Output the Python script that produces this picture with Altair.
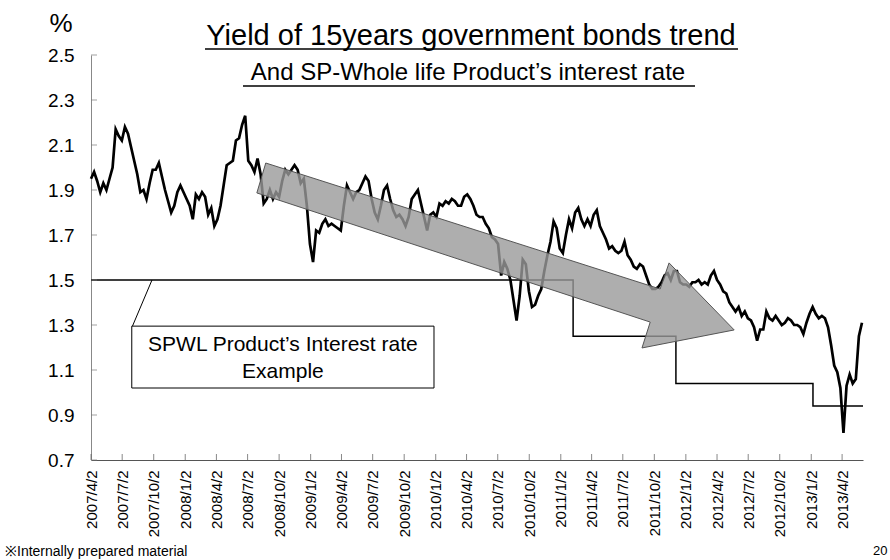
import altair as alt
import pandas as pd

FONT = "Liberation Sans"

# ---------------- data ----------------
# 15-year JGB yield (%) on a 9-day sampling grid from 2007-04-02
yield_start = "2007-04-02"
yield_step = "9D"
yield_values = [
    1.95, 1.98, 1.94, 1.89, 1.93, 1.90, 1.95, 2.00, 2.17, 2.14,
    2.12, 2.18, 2.15, 2.09, 2.03, 1.97, 1.89, 1.90, 1.86, 1.93,
    1.99, 1.99, 2.02, 1.96, 1.90, 1.85, 1.80, 1.83, 1.89, 1.92,
    1.89, 1.86, 1.83, 1.77, 1.88, 1.86, 1.89, 1.87, 1.79, 1.82,
    1.74, 1.77, 1.83, 1.92, 2.01, 2.02, 2.03, 2.12, 2.13, 2.19,
    2.23, 2.03, 2.01, 1.98, 2.04, 1.97, 1.84, 1.86, 1.90, 1.86,
    1.89, 1.87, 1.94, 1.99, 1.97, 1.99, 2.01, 1.99, 1.93, 1.95,
    1.83, 1.66, 1.58, 1.72, 1.71, 1.75, 1.77, 1.74, 1.75, 1.74,
    1.73, 1.72, 1.83, 1.92, 1.89, 1.86, 1.89, 1.90, 1.93, 1.96,
    1.94, 1.86, 1.80, 1.77, 1.83, 1.90, 1.92, 1.86, 1.81, 1.78,
    1.79, 1.77, 1.74, 1.78, 1.86, 1.88, 1.90, 1.84, 1.78, 1.72,
    1.79, 1.80, 1.78, 1.84, 1.83, 1.85, 1.84, 1.86, 1.85, 1.83,
    1.83, 1.87, 1.88, 1.86, 1.83, 1.79, 1.78, 1.78, 1.75, 1.73,
    1.69, 1.68, 1.66, 1.52, 1.58, 1.55, 1.50, 1.41, 1.32, 1.43,
    1.59, 1.57, 1.45, 1.38, 1.39, 1.43, 1.46, 1.54, 1.61, 1.67,
    1.76, 1.73, 1.64, 1.62, 1.70, 1.77, 1.73, 1.80, 1.82, 1.77,
    1.74, 1.77, 1.74, 1.79, 1.81, 1.74, 1.71, 1.68, 1.64, 1.65,
    1.63, 1.62, 1.63, 1.67, 1.61, 1.59, 1.56, 1.55, 1.57, 1.56,
    1.52, 1.48, 1.46, 1.46, 1.47, 1.49, 1.52, 1.53, 1.50, 1.54,
    1.54, 1.49, 1.48, 1.48, 1.47, 1.49, 1.49, 1.50, 1.48, 1.49,
    1.48, 1.52, 1.54, 1.50, 1.48, 1.45, 1.44, 1.40, 1.38, 1.36,
    1.38, 1.34, 1.36, 1.33, 1.32, 1.29, 1.23, 1.28, 1.28, 1.36,
    1.33, 1.32, 1.34, 1.32, 1.30, 1.31, 1.33, 1.32, 1.30, 1.30,
    1.29, 1.26, 1.31, 1.35, 1.38, 1.35, 1.33, 1.34, 1.33, 1.29,
    1.21, 1.12, 1.09, 1.02, 0.82, 1.03, 1.08, 1.04, 1.06, 1.25,
    1.31,
]

# SPWL product's interest rate (step series)
rate_dates = ["2007-04-02", "2011-02-07", "2011-12-04", "2013-01-07", "2013-06-02"]
rate_values = [1.50, 1.25, 1.04, 0.94, 0.94]

# axis ticks
x_tick_dates = [
    (2007, 4, 2), (2007, 7, 2), (2007, 10, 2), (2008, 1, 2), (2008, 4, 2),
    (2008, 7, 2), (2008, 10, 2), (2009, 1, 2), (2009, 4, 2), (2009, 7, 2),
    (2009, 10, 2), (2010, 1, 2), (2010, 4, 2), (2010, 7, 2), (2010, 10, 2),
    (2011, 1, 2), (2011, 4, 2), (2011, 7, 2), (2011, 10, 2), (2012, 1, 2),
    (2012, 4, 2), (2012, 7, 2), (2012, 10, 2), (2013, 1, 2), (2013, 4, 2),
]
y_ticks = [0.7, 0.9, 1.1, 1.3, 1.5, 1.7, 1.9, 2.1, 2.3, 2.5]
x_domain = [(2007, 4, 2), (2013, 6, 2)]
y_domain = [0.7, 2.5]

# big trend arrow (polygon, data coordinates)
arrow_dates = ["2008-07-29", "2008-08-24", "2011-10-19", "2011-11-14",
               "2012-05-22", "2011-08-27", "2011-09-20", "2008-07-29"]
arrow_values = [1.887, 2.02, 1.46, 1.576, 1.278, 1.198, 1.313, 1.887]

# callout box, leader and its text
box_dates = ["2007-07-30", "2009-12-28"]
box_values = [1.295, 1.02]
leader_dates = ["2007-08-01", "2007-09-27"]
leader_values = [1.295, 1.50]
callout_lines = ["SPWL Product\u2019s Interest rate", "Example"]
callout_date = "2008-10-13"
callout_values = [1.211, 1.091]

title_text = "Yield of 15years government bonds trend"
subtitle_text = "And SP-Whole life Product\u2019s interest rate"
unit_text = "%"
footnote_text = "\u203bInternally prepared material"
page_text = "20"

# ---------------- frames ----------------
yield_df = pd.DataFrame({
    "date": pd.date_range(yield_start, periods=len(yield_values), freq=yield_step),
    "v": yield_values,
})
rate_df = pd.DataFrame({"date": pd.to_datetime(rate_dates), "v": rate_values})
arrow_df = pd.DataFrame({"date": pd.to_datetime(arrow_dates), "v": arrow_values,
                         "k": list(range(len(arrow_dates)))})
box_df = pd.DataFrame({"d1": [pd.Timestamp(box_dates[0])], "d2": [pd.Timestamp(box_dates[1])],
                       "v1": [box_values[0]], "v2": [box_values[1]]})
leader_df = pd.DataFrame({"date": pd.to_datetime(leader_dates), "v": leader_values})
callout_df = pd.DataFrame({"date": [pd.Timestamp(callout_date)] * 2, "v": callout_values,
                           "t": callout_lines})
xt_df = pd.DataFrame({"date": [pd.Timestamp(year=y, month=m, day=d) for y, m, d in x_tick_dates]})
yt_df = pd.DataFrame({"v": y_ticks})

# ---------------- scales / encodings ----------------
x_scale = alt.Scale(domain=[alt.DateTime(year=y, month=m, date=d) for y, m, d in x_domain])
y_scale = alt.Scale(domain=y_domain, nice=False, zero=False)

x_axis = alt.Axis(
    values=[alt.DateTime(year=y, month=m, date=d) for y, m, d in x_tick_dates],
    format="%Y/%-m/%-d", labelAngle=-90, labelFontSize=15, labelPadding=10,
    labelFont=FONT, labelColor="black", ticks=False, grid=False,
    domainColor="#555555", title=None, labelOverlap=False, labelFlush=False,
)
y_axis = alt.Axis(
    values=y_ticks, format=".1f", labelFontSize=19, labelPadding=17,
    labelFont=FONT, labelColor="black", ticks=False, grid=False,
    domainColor="#888888", title=None,
)

X = alt.X("date:T", scale=x_scale, axis=x_axis)
Y = alt.Y("v:Q", scale=y_scale, axis=y_axis)

yield_line = alt.Chart(yield_df).mark_line(color="black", strokeWidth=2.7).encode(x=X, y=Y)
rate_line = alt.Chart(rate_df).mark_line(color="black", strokeWidth=1.5,
                                          interpolate="step-after").encode(x=X, y=Y)
arrow = alt.Chart(arrow_df).mark_line(
    fill="#9a9a9a", fillOpacity=0.8, stroke="#555555", strokeWidth=1
).encode(x=X, y=Y, order="k:Q")
box = alt.Chart(box_df).mark_rect(fill="white", stroke="black", strokeWidth=1).encode(
    x=alt.X("d1:T", scale=x_scale, axis=x_axis), x2="d2:T",
    y=alt.Y("v1:Q", scale=y_scale, axis=y_axis), y2="v2:Q")
leader = alt.Chart(leader_df).mark_line(color="black", strokeWidth=1).encode(x=X, y=Y)
callout = alt.Chart(callout_df).mark_text(
    font=FONT, fontSize=21, color="black", align="center", baseline="middle"
).encode(x=X, y=Y, text="t:N")

xticks = alt.Chart(xt_df).mark_tick(
    orient="vertical", size=6, thickness=1, yOffset=-3, color="#555555"
).encode(x=X, y=alt.value(405))
yticks = alt.Chart(yt_df).mark_tick(
    orient="horizontal", size=6, thickness=1, xOffset=3, color="#777777"
).encode(y=Y, x=alt.value(0))


def label(text, x, y, size, align="center", color="black"):
    return alt.Chart(pd.DataFrame({"t": [text]})).mark_text(
        font=FONT, fontSize=size, align=align, baseline="alphabetic", color=color
    ).encode(text="t:N", x=alt.value(x), y=alt.value(y))


def underline(x1, x2, y):
    return alt.Chart(pd.DataFrame({"t": [0]})).mark_rule(color="black", strokeWidth=1.5).encode(
        x=alt.value(x1), x2=alt.value(x2), y=alt.value(y))


chart = alt.layer(
    rate_line, yield_line, arrow, box, leader, callout, xticks, yticks,
    label(title_text, 380, -10, 29), underline(114, 647, -6),
    label(subtitle_text, 377, 25, 24), underline(152, 604, 31),
    label(unit_text, -30, -23, 26),
    label(footnote_text, -86, 501, 14, align="left"),
    label(page_text, 782, 500, 13, align="left"),
).properties(
    width=772, height=405,
    padding={"left": 91, "top": 55, "right": 27, "bottom": 100},
    autosize=alt.AutoSizeParams(type="none"),
    background="white",
).configure_view(stroke=None)

chart.save("out.html", embed_options={"renderer": "svg", "actions": False})
